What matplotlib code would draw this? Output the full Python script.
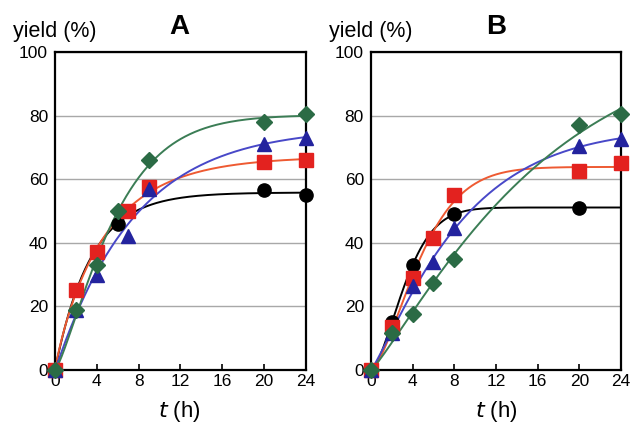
import numpy as np
import matplotlib
matplotlib.use("Agg")
import matplotlib.pyplot as plt

plt.rcParams['font.family'] = ['Liberation Sans', 'DejaVu Sans']

# panel A
a_black_t = [0, 6, 20, 24]
a_black_y = [0, 46, 56.5, 55]
a_red_t = [0, 2, 4, 7, 9, 20, 24]
a_red_y = [0, 25, 37, 50, 57.5, 65.5, 66]
a_blue_t = [0, 2, 4, 7, 9, 20, 24]
a_blue_y = [0, 19, 30, 42, 57, 71, 73]
a_green_t = [0, 2, 4, 6, 9, 20, 24]
a_green_y = [0, 19, 33, 50, 66, 78, 80.5]

# panel B
b_black_t = [0, 2, 4, 8, 20]
b_black_y = [0, 15, 33, 49, 51]
b_red_t = [0, 2, 4, 6, 8, 20, 24]
b_red_y = [0, 13.5, 29, 41.5, 55, 62.5, 65]
b_blue_t = [0, 2, 4, 6, 8, 20, 24]
b_blue_y = [0, 11.5, 26.5, 34, 44.5, 70.5, 72.5]
b_green_t = [0, 2, 4, 6, 8, 20, 24]
b_green_y = [0, 11.5, 17.5, 27.5, 35, 77, 80.5]

x_ticks = [0, 4, 8, 12, 16, 20, 24]
y_ticks = [0, 20, 40, 60, 80, 100]

BLACK = ('black', 'black', 'o', 9.5)
RED = ('#e3221f', '#ee5a32', 's', 9.5)
BLUE = ('#23239e', '#4848c8', '^', 10)
GREEN = ('#2b6b45', '#3b7d55', 'D', 8)

FIRST_ORDER = [1.0]
LAGGED = np.linspace(0.9, 2.5, 81)


def fit_curve(t, y, ns):
    # least squares fit of y = A * (1 - exp(-(k t)^n)) by grid search
    t = np.asarray(t, float)
    y = np.asarray(y, float)
    ks = np.logspace(-2.5, 0.3, 400)
    best = None
    for n in ns:
        f = 1 - np.exp(-(np.outer(ks, t)) ** n)
        A = (f @ y) / np.maximum((f * f).sum(axis=1), 1e-12)
        sse = ((f * A[:, None] - y) ** 2).sum(axis=1)
        i = np.argmin(sse)
        if best is None or sse[i] < best[0]:
            best = (sse[i], A[i], ks[i], n)
    _, A, k, n = best
    tt = np.linspace(0, 24, 300)
    return tt, A * (1 - np.exp(-(k * tt) ** n))


def panel(ax, series, letter, fig_cx):
    for (t, y, ns), (mc, lc, m, ms) in series:
        tt, yy = fit_curve(t, y, ns)
        ax.plot(tt, yy, color=lc, lw=1.4, zorder=2, clip_on=True)
    for (t, y, ns), (mc, lc, m, ms) in series:
        ax.plot(t, y, ls='none', marker=m, ms=ms, color=mc, mec=mc,
                zorder=3, clip_on=False)
    ax.set_xlim(0, 24)
    ax.set_ylim(0, 100)
    ax.set_xticks(x_ticks)
    ax.set_yticks(y_ticks)
    ax.tick_params(axis='x', direction='in', length=4, width=1.2,
                   labelsize=12.5, pad=3)
    ax.tick_params(axis='y', length=0, labelsize=12.5, pad=5)
    ax.grid(axis='y', color='#a8a8a8', lw=1.0)
    ax.set_axisbelow(True)
    for s in ax.spines.values():
        s.set_linewidth(1.6)
    fig.text(fig_cx, 0.936, letter, fontsize=20, fontweight='bold',
             ha='center', va='center')
    fig.text(fig_cx, 0.03, r'$\mathit{t}$ (h)', fontsize=16,
             ha='center', va='center')


fig = plt.figure(figsize=(6.33, 4.24), dpi=100)
axA = fig.add_axes([0.0869, 0.1274, 0.3965, 0.75])
axB = fig.add_axes([0.586, 0.1274, 0.395, 0.75])

panel(axA, [((a_black_t, a_black_y, FIRST_ORDER), BLACK),
            ((a_red_t, a_red_y, LAGGED), RED),
            ((a_blue_t, a_blue_y, LAGGED), BLUE),
            ((a_green_t, a_green_y, LAGGED), GREEN)],
      'A', 0.284)
panel(axB, [((b_black_t, b_black_y, LAGGED), BLACK),
            ((b_red_t, b_red_y, LAGGED), RED),
            ((b_blue_t, b_blue_y, LAGGED), BLUE),
            ((b_green_t, b_green_y, LAGGED), GREEN)],
      'B', 0.784)

fig.text(13 / 633, 1 - 31 / 424, 'yield (%)', fontsize=15.5, va='center')
fig.text(329 / 633, 1 - 31 / 424, 'yield (%)', fontsize=15.5, va='center')

fig.savefig('out.png', dpi=100)
